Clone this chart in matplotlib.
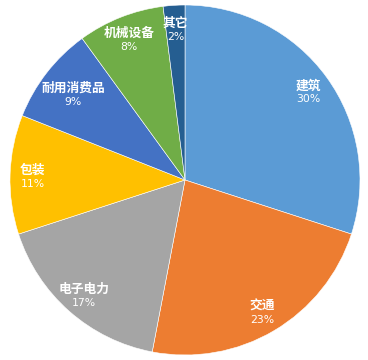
import numpy as np
import matplotlib
matplotlib.use('Agg')
import matplotlib.pyplot as plt

plt.rcParams['font.family'] = ['Noto Sans CJK SC', 'DejaVu Sans']

names = ['建筑', '交通', '电子电力', '包装', '耐用消费品', '机械设备', '其它']
shares = [30, 23, 17, 11, 9, 8, 2]
colors = ['#5B9BD5', '#ED7D31', '#A5A5A5', '#FFC000', '#4472C4', '#70AD47', '#255E91']

fig = plt.figure(figsize=(3.68, 3.60), dpi=100)
ax = fig.add_axes([10/368, 5/360, 350/368, 350/360])

wedges, _ = ax.pie(shares, colors=colors, startangle=90, counterclock=False,
                   radius=1, wedgeprops=dict(edgecolor='white', linewidth=0.4))
ax.set_xlim(-1, 1)
ax.set_ylim(-1, 1)
ax.set_aspect('equal')
ax.axis('off')

for w, name, v in zip(wedges, names, shares):
    ang = np.deg2rad((w.theta1 + w.theta2) / 2)
    # long label gets pulled inward so it fits in the slice
    d = 0.81 if len(name) > 4 else 0.87
    x = d * np.cos(ang)
    y = d * np.sin(ang) - 0.015
    ax.text(x, y + 0.005, name, ha='center', va='bottom', color='white',
            fontsize=9.2, fontweight='bold')
    ax.text(x, y - 0.005, '%d%%' % v, ha='center', va='top', color='white',
            fontsize=7.8, family=['DejaVu Sans'])

fig.savefig('out.png', dpi=100)
